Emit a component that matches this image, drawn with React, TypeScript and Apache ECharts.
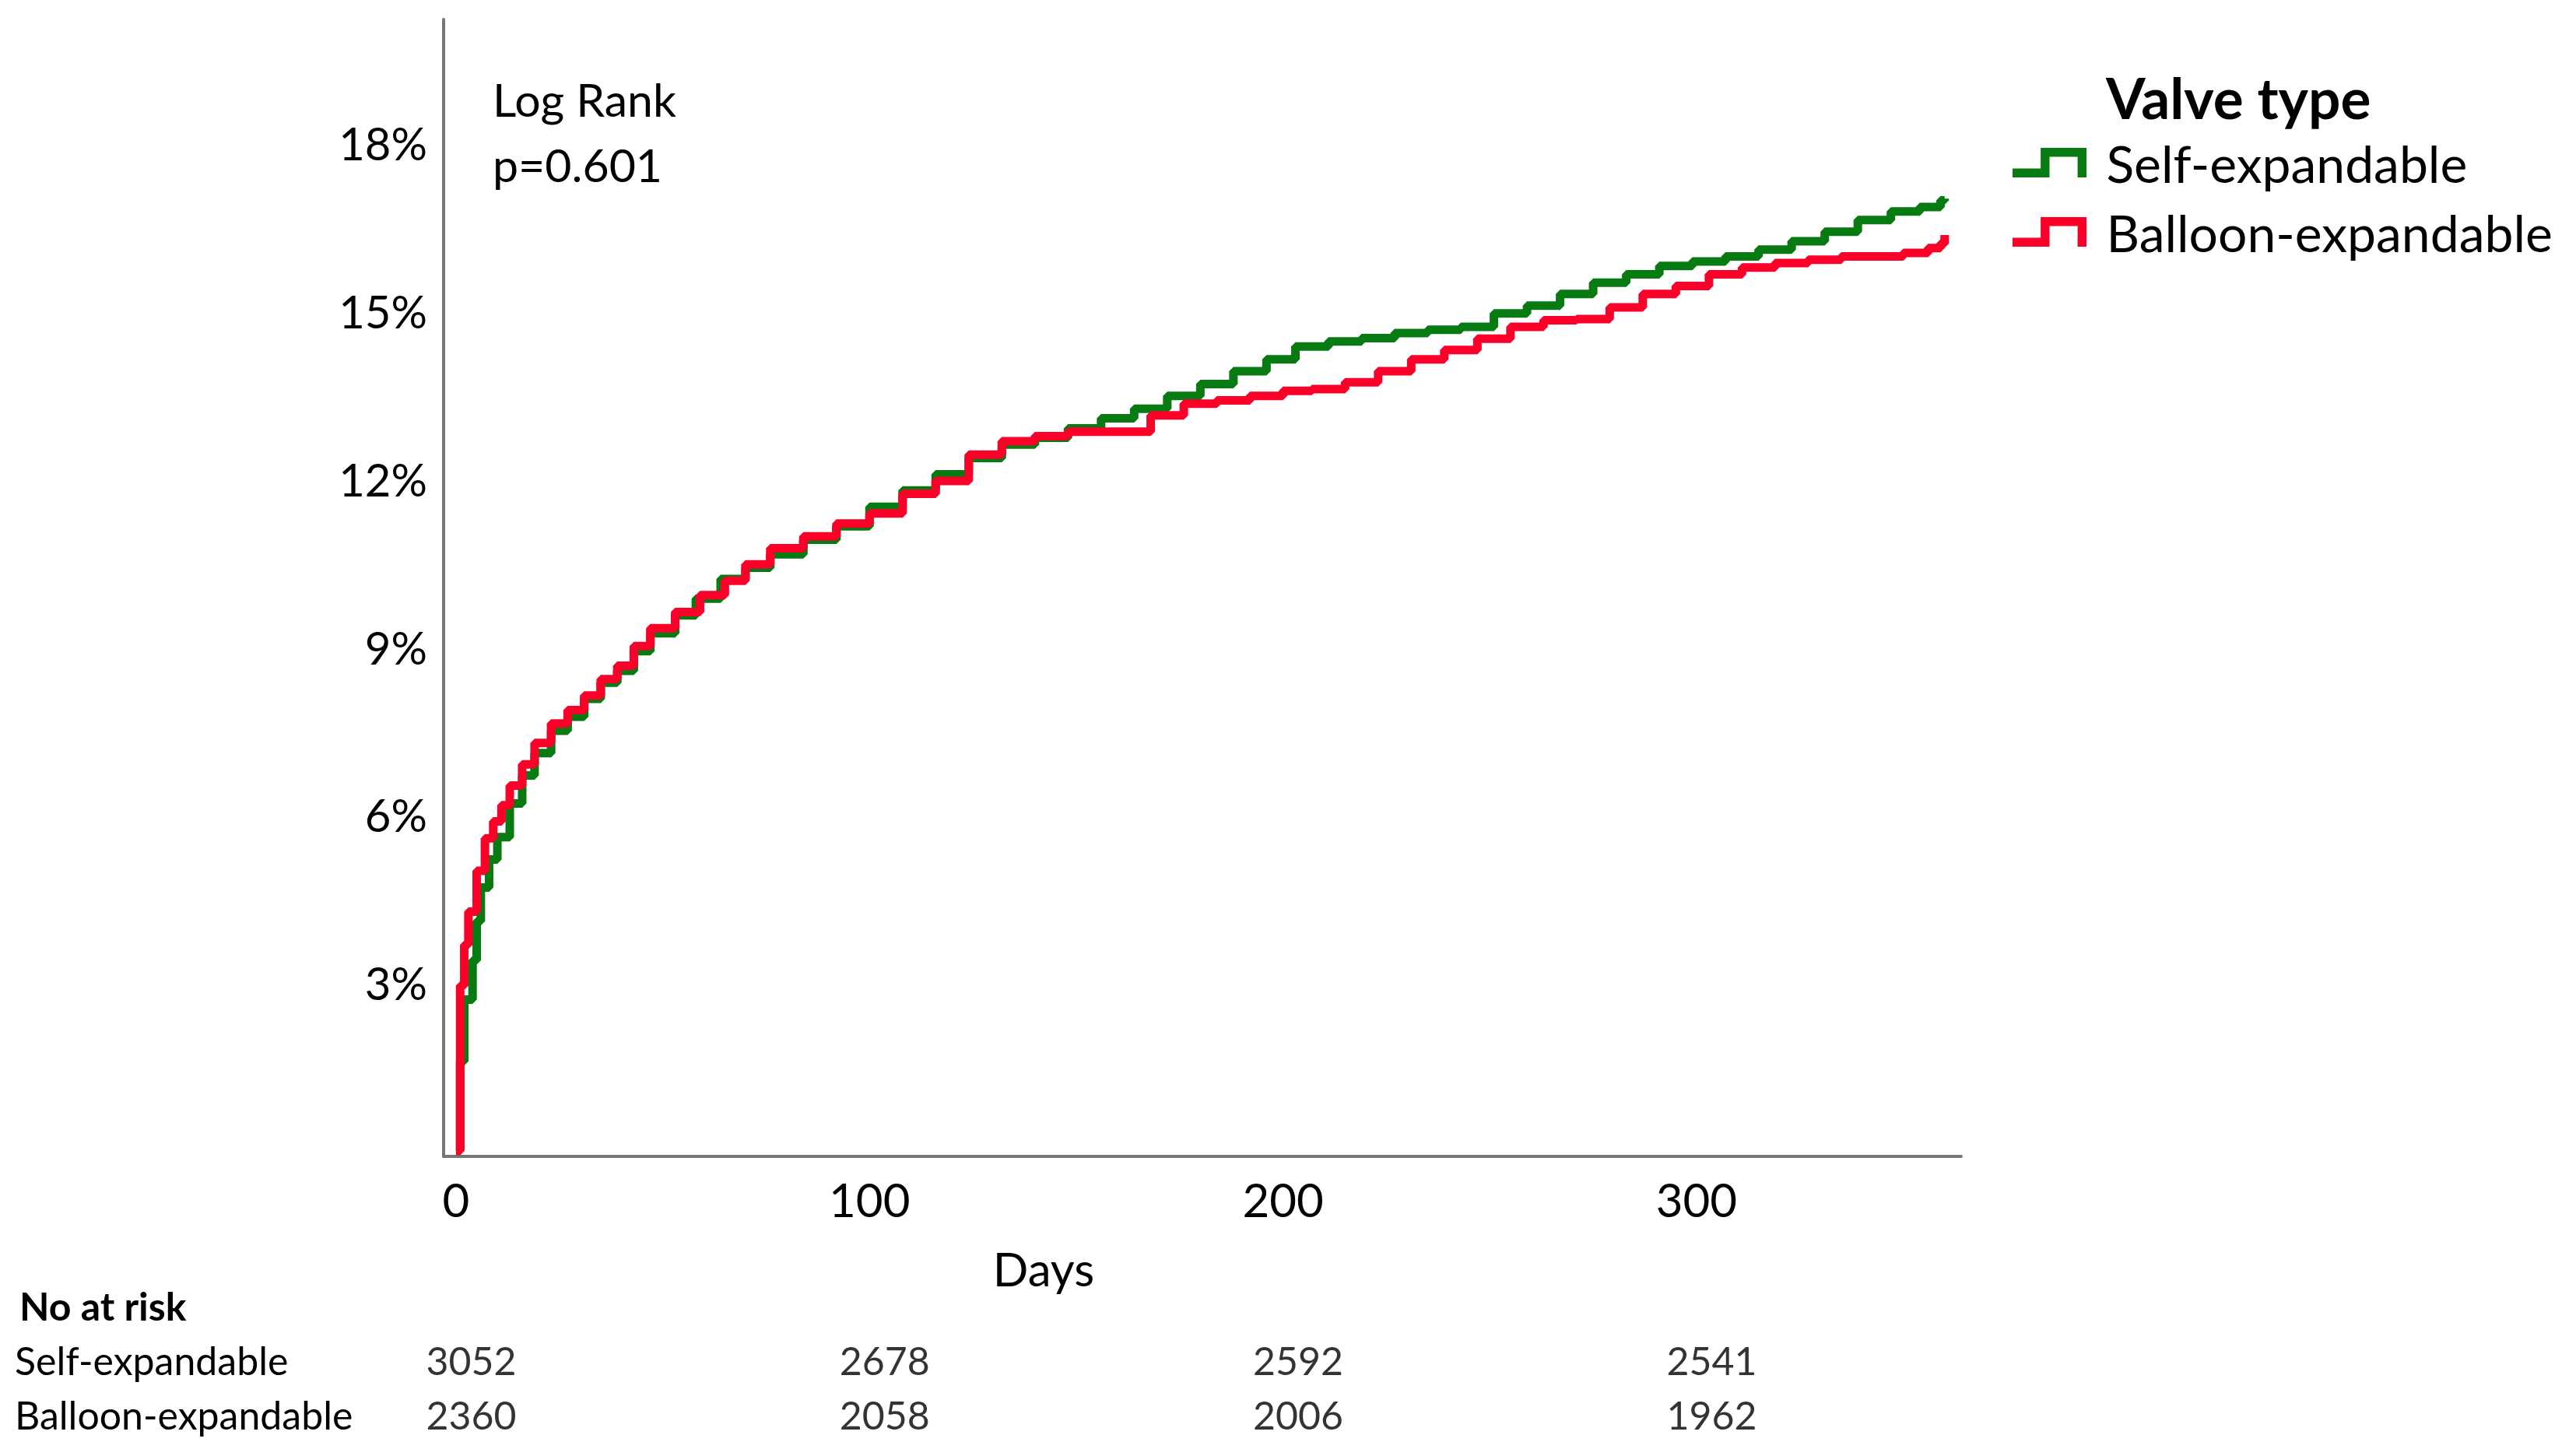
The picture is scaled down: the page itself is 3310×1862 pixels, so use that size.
import React, { useEffect, useRef } from "react";
import * as echarts from "echarts";

// Kaplan-Meier cumulative incidence (%), [day, percent]
const selfExpandable: [number, number][] = [
  [0, 0], [1, 1.6], [2, 2.7], [4, 3.4], [5, 4.1], [6, 4.7], [8, 5.2], [10, 5.6],
  [13, 6.2], [16, 6.7], [19, 7.1], [23, 7.5], [27, 7.75], [31, 8.07], [35, 8.36],
  [39, 8.57], [43, 8.92], [47, 9.24], [53, 9.56], [58, 9.86], [64, 10.21],
  [70, 10.41], [76, 10.65], [84, 10.91], [92, 11.15], [100, 11.5], [108, 11.79],
  [116, 12.08], [124, 12.37], [132, 12.61], [140, 12.73], [148, 12.9], [156, 13.08],
  [164, 13.25], [172, 13.48], [180, 13.69], [188, 13.92], [196, 14.13], [203, 14.36],
  [211, 14.45], [219, 14.51], [227, 14.6], [235, 14.66], [243, 14.71], [251, 14.95],
  [259, 15.09], [267, 15.3], [275, 15.5], [283, 15.65], [291, 15.8], [299, 15.88],
  [307, 15.97], [315, 16.09], [323, 16.24], [331, 16.41], [339, 16.62], [347, 16.77],
  [354, 16.85], [359, 16.97], [360, 17.0],
];

const balloonExpandable: [number, number][] = [
  [0, 0], [1, 2.95], [2, 3.68], [3, 4.27], [5, 5.0], [7, 5.58], [9, 5.88], [11, 6.17],
  [13, 6.52], [16, 6.9], [19, 7.28], [23, 7.63], [27, 7.87], [31, 8.13], [35, 8.42],
  [39, 8.66], [43, 9.01], [47, 9.33], [53, 9.62], [59, 9.92], [65, 10.18], [70, 10.47],
  [76, 10.76], [84, 10.97], [92, 11.2], [100, 11.38], [108, 11.73], [116, 11.96],
  [124, 12.43], [132, 12.67], [140, 12.76], [148, 12.84], [162, 12.84], [168, 13.13],
  [176, 13.34], [184, 13.4], [192, 13.48], [200, 13.57], [207, 13.6], [215, 13.72],
  [223, 13.92], [231, 14.13], [239, 14.3], [247, 14.5], [255, 14.71], [263, 14.83],
  [271, 14.85], [279, 15.06], [287, 15.3], [295, 15.44], [303, 15.65], [311, 15.77],
  [319, 15.85], [327, 15.91], [335, 15.97], [350, 16.03], [356, 16.12], [359, 16.2],
  [360, 16.35],
];

const xTickValues = [0, 100, 200, 300];
const yTickValues = [3, 6, 9, 12, 15, 18];

const riskDays = [0, 100, 200, 300];
const riskGroups = ["Self-expandable", "Balloon-expandable"];
const riskSelf = [3052, 2678, 2592, 2541];
const riskBalloon = [2360, 2058, 2006, 1962];

const GREEN = "#077a12";
const RED = "#fb0029";
const FONT = "Lato";
const ICON = "path://M0,28L38,28L38,0L100,0L100,40L88,40L88,12L50,12L50,40L0,40Z";

export default function App() {
  const ref = useRef<HTMLDivElement>(null);

  useEffect(() => {
    if (!ref.current) return;
    const chart = echarts.init(ref.current, undefined, { renderer: "svg" });

    const legendBase = {
      orient: "vertical",
      left: 2586,
      padding: 0,
      itemGap: 0,
      itemWidth: 104,
      itemHeight: 38,
      icon: ICON,
      textStyle: { fontSize: 66, fontFamily: FONT, color: "#000", padding: [0, 0, 0, 16] },
    };

    const riskSeries = (values: number[], group: string, name: string) => ({
      type: "scatter",
      name,
      xAxisIndex: 1,
      yAxisIndex: 1,
      symbol: "circle",
      symbolSize: 1,
      itemStyle: { color: "rgba(0,0,0,0)" },
      silent: true,
      data: riskDays.map((d, i) => [d, group, values[i]]),
      label: {
        show: true,
        position: [0, 0],
        align: "center",
        verticalAlign: "middle",
        formatter: (p: any) => String(p.value[2]),
        fontSize: 50,
        fontFamily: FONT,
        color: "#000",
        textBorderWidth: 0,
      },
    });

    chart.setOption({
      animation: false,
      backgroundColor: "#fff",
      grid: [
        { left: 570, right: 790, top: 25, bottom: 376 },
        { left: 590, right: 770, top: 1713, height: 140 },
      ],
      xAxis: [
        {
          gridIndex: 0,
          type: "value",
          min: -3,
          max: 364,
          axisLine: { show: true, onZero: false, lineStyle: { color: "#767676", width: 4 } },
          axisTick: { show: false },
          splitLine: { show: false },
          axisLabel: {
            customValues: xTickValues,
            fontSize: 60,
            fontFamily: FONT,
            color: "#000",
            margin: 25,
          },
        },
        { gridIndex: 1, type: "value", min: -3, max: 364, show: false },
      ],
      yAxis: [
        {
          gridIndex: 0,
          type: "value",
          min: -0.1,
          max: 20.2,
          axisLine: { show: true, onZero: false, lineStyle: { color: "#767676", width: 4 } },
          axisTick: { show: false },
          splitLine: { show: false },
          axisLabel: {
            customValues: yTickValues,
            formatter: (v: number) => `${v}%`,
            fontSize: 58,
            fontFamily: FONT,
            color: "#000",
            margin: 21,
          },
        },
        {
          gridIndex: 1,
          type: "category",
          data: riskGroups,
          inverse: true,
          axisLine: { show: false },
          axisTick: { show: false },
          splitLine: { show: false },
          axisLabel: {
            align: "left",
            margin: 571,
            fontSize: 50,
            fontFamily: FONT,
            color: "#000",
          },
        },
      ],
      legend: [
        { ...legendBase, top: 176, data: ["Self-expandable"] },
        { ...legendBase, top: 265, data: ["Balloon-expandable"] },
      ],
      series: [
        {
          type: "line",
          name: "Self-expandable",
          step: "end",
          symbol: "none",
          showSymbol: false,
          data: selfExpandable,
          lineStyle: { color: GREEN, width: 11 },
          itemStyle: { color: GREEN },
          z: 2,
        },
        {
          type: "line",
          name: "Balloon-expandable",
          step: "end",
          symbol: "none",
          showSymbol: false,
          data: balloonExpandable,
          lineStyle: { color: RED, width: 11 },
          itemStyle: { color: RED },
          z: 3,
        },
        riskSeries(riskSelf, riskGroups[0], "risk-self"),
        riskSeries(riskBalloon, riskGroups[1], "risk-balloon"),
      ],
      graphic: [
        {
          type: "text",
          x: 633,
          y: 127,
          style: { text: "Log Rank", fontSize: 59, fontFamily: FONT, fill: "#000", verticalAlign: "middle" },
        },
        {
          type: "text",
          x: 633,
          y: 211,
          style: { text: "p=0.601", fontSize: 59, fontFamily: FONT, fill: "#000", verticalAlign: "middle" },
        },
        {
          type: "text",
          x: 2706,
          y: 125,
          style: {
            text: "Valve type",
            fontSize: 73,
            fontWeight: "bold",
            fontFamily: FONT,
            fill: "#000",
            verticalAlign: "middle",
          },
        },
        {
          type: "text",
          x: 1341,
          y: 1630,
          style: { text: "Days", fontSize: 60, fontFamily: FONT, fill: "#000", align: "center", verticalAlign: "middle" },
        },
        {
          type: "text",
          x: 25,
          y: 1678,
          style: {
            text: "No at risk",
            fontSize: 50,
            fontWeight: "bold",
            fontFamily: FONT,
            fill: "#000",
            verticalAlign: "middle",
          },
        },
      ],
    });

    return () => chart.dispose();
  }, []);

  return (
    <div
      ref={ref}
      style={{ position: "fixed", left: 0, top: 0, width: 3310, height: 1862, background: "#fff" }}
    />
  );
}
